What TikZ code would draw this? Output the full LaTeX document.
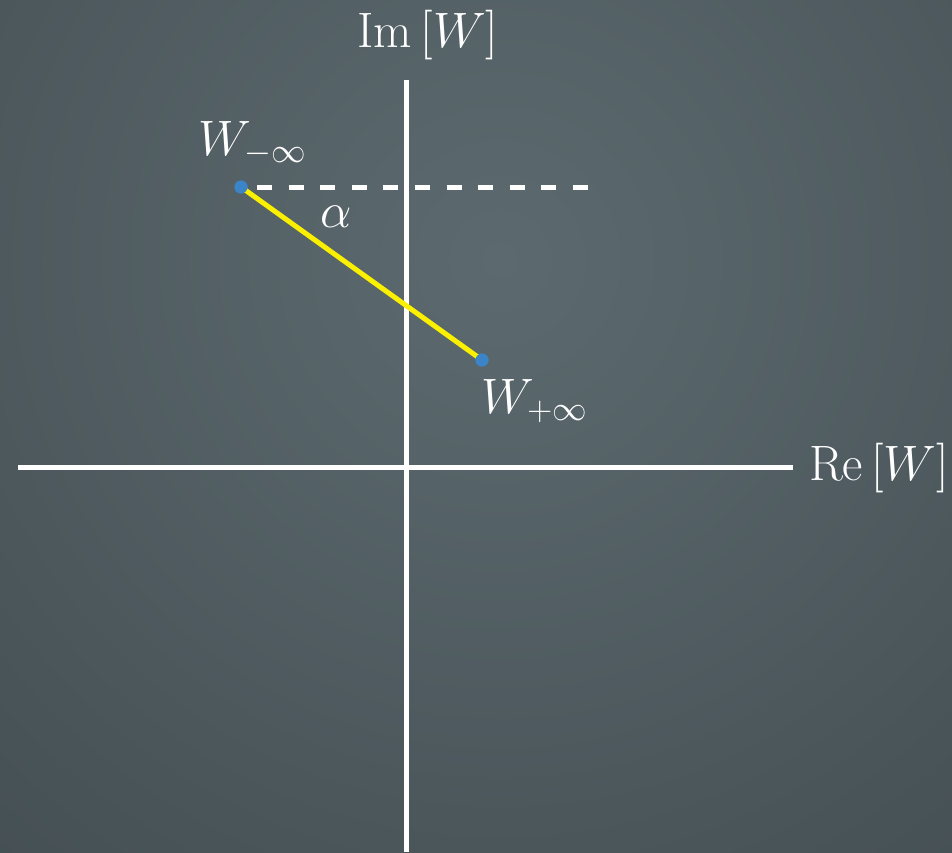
\documentclass[tikz,border=0pt]{standalone}
\usepackage{tikz}
\definecolor{bgin}{RGB}{92,106,111}
\definecolor{bgout}{RGB}{54,62,66}
\definecolor{dotblue}{RGB}{60,132,200}
\definecolor{lineyellow}{RGB}{250,240,0}
\begin{document}
\begin{tikzpicture}[x=0.5pt,y=-0.5pt,
  axis/.style={draw=white,line width=2.5pt},
  guide/.style={draw=white,line width=2.5pt,dash pattern=on 7.5pt off 8.3pt},
  segment/.style={draw=lineyellow,line width=2.5pt},
  pointdot/.style={circle,fill=dotblue,inner sep=0pt,minimum size=6.5pt},
  lbl/.style={text=white,inner sep=0pt,font=\fontsize{24}{28}\selectfont}]
\useasboundingbox (0,0) rectangle (952,852);
\begin{scope}
  \clip (0,0) rectangle (952,852);
  \shade[inner color=bgin,outer color=bgout] (500,260) circle (1300);
\end{scope}
% axes
\coordinate (ytop) at (406,80);
\coordinate (ybot) at (406,852);
\coordinate (xl) at (18,467);
\coordinate (xr) at (793,467);
\draw[axis] (ybot) -- (ytop);
\draw[axis] (xl) -- (xr);
% points
\node[pointdot] (wm) at (241,187) {};
\node[pointdot] (wp) at (482,360) {};
\coordinate (ds) at (257,187);
\coordinate (de) at (588,187);
\draw[guide] (ds) -- (de);
\draw[segment] (wm.center) -- (wp.center);
\node[pointdot] at (wm) {};
\node[pointdot] at (wp) {};
% labels
\node[lbl,anchor=base] (im) at (428,47) {$\mathrm{Im}\,[W]$};
\node[lbl,anchor=base] (re) at (879,480) {$\mathrm{Re}\,[W]$};
\node[lbl,anchor=base west] (lm) at (198,155) {$W_{-\infty}$};
\node[lbl,anchor=base west] (lp) at (481,413) {$W_{+\infty}$};
\node[lbl,anchor=base] (al) at (336,227) {$\alpha$};
\end{tikzpicture}
\end{document}
